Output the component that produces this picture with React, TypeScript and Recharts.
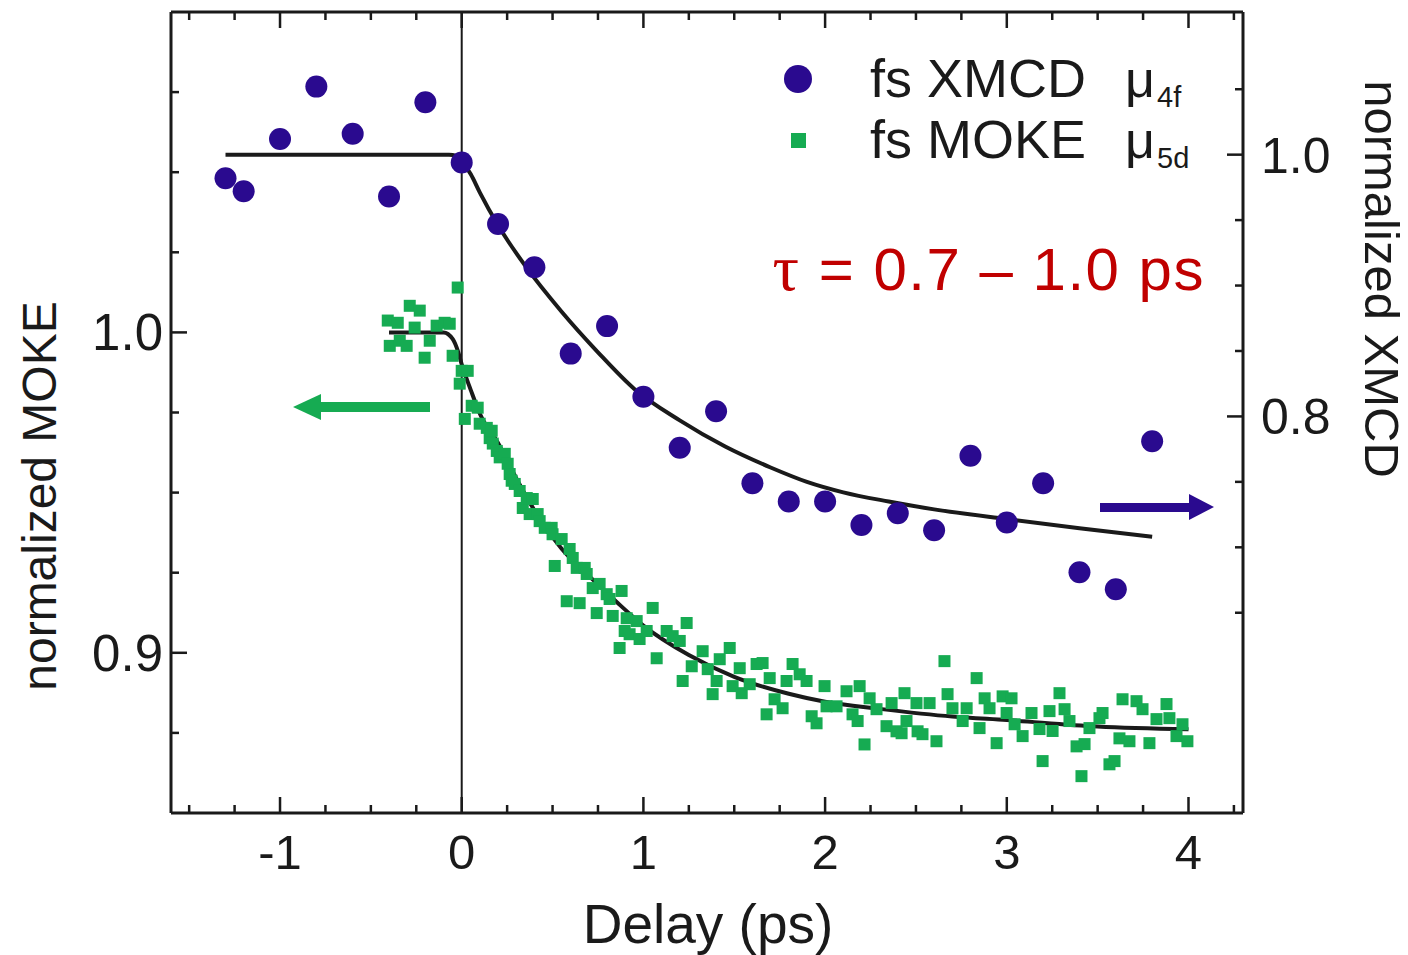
import {
  ComposedChart,
  Customized,
  Line,
  ReferenceLine,
  Scatter,
  XAxis,
  YAxis,
} from "recharts";

const BLUE = "#2a0a8f";
const GREEN = "#16ab52";
const INK = "#1a1a1a";
const RED = "#c00000";
const FONT = "'Liberation Sans', Arial, sans-serif";

// fs XMCD (right axis)
const xmcdDelay = [
  -1.3, -1.2, -1.0, -0.8, -0.6, -0.4, -0.2, 0.0, 0.2, 0.4, 0.6, 0.8, 1.0, 1.2,
  1.4, 1.6, 1.8, 2.0, 2.2, 2.4, 2.6, 2.8, 3.0, 3.2, 3.4, 3.6, 3.8,
];
const xmcdValue = [
  0.982, 0.972, 1.012, 1.052, 1.016, 0.968, 1.04, 0.994, 0.947, 0.914, 0.848,
  0.869, 0.815, 0.776, 0.804, 0.749, 0.735, 0.735, 0.717, 0.726, 0.713, 0.77,
  0.719, 0.749, 0.681, 0.668, 0.781,
];

// XMCD fit curve
const xmcdFitDelay = [
  -1.3, -0.07, -0.03, 0.0, 0.05, 0.1, 0.2, 0.35, 0.55, 0.75, 0.95, 1.2, 1.45,
  1.7, 1.9, 2.1, 2.35, 2.6, 3.0, 3.4, 3.8,
];
const xmcdFitValue = [
  1.0, 1.0, 0.999, 0.995, 0.985, 0.971, 0.946, 0.915, 0.88, 0.849, 0.821, 0.797,
  0.777, 0.761, 0.75, 0.742, 0.735, 0.729, 0.7215, 0.7145, 0.708,
];

// fs MOKE (left axis)
const mokeDelay = [
  -0.407, -0.396, -0.352, -0.341, -0.303, -0.286, -0.259, -0.231, -0.204,
  -0.176, -0.138, -0.094, -0.066, -0.05, -0.022, -0.011, 0.0, 0.017, 0.033,
  0.055, 0.088, 0.099, 0.138, 0.154, 0.165, 0.171, 0.193, 0.209, 0.237, 0.253,
  0.264, 0.275, 0.292, 0.319, 0.336, 0.358, 0.374, 0.391, 0.418, 0.429, 0.457,
  0.495, 0.5, 0.512, 0.55, 0.578, 0.594, 0.611, 0.633, 0.649, 0.677, 0.688,
  0.721, 0.743, 0.759, 0.798, 0.814, 0.831, 0.869, 0.88, 0.897, 0.908,
  0.924, 0.963, 0.979, 1.018, 1.051, 1.073, 1.128, 1.161, 1.2, 1.216, 1.238,
  1.266, 1.326, 1.354, 1.381, 1.403, 1.42, 1.475, 1.491, 1.53, 1.541, 1.585,
  1.623, 1.656, 1.678, 1.695, 1.722, 1.766, 1.788, 1.821, 1.86, 1.898, 1.926,
  1.953, 1.997, 2.008, 2.063, 2.118, 2.151, 2.179, 2.19, 2.217, 2.245, 2.283,
  2.338, 2.366, 2.393, 2.421, 2.437, 2.448, 2.503, 2.509, 2.536, 2.575, 2.613,
  2.657, 2.674, 2.701, 2.757, 2.779, 2.834, 2.85, 2.878, 2.905, 2.944, 2.977,
  2.999, 3.026, 3.043, 3.087, 3.136, 3.18, 3.197, 3.235, 3.252, 3.29, 3.318,
  3.345, 3.384, 3.411, 3.428, 3.455, 3.51, 3.527, 3.565, 3.593, 3.62, 3.637,
  3.675, 3.714, 3.747, 3.785, 3.824, 3.879, 3.895, 3.934, 3.967, 3.994,
];
const mokeValue = [
  1.0037, 0.9958, 1.003, 0.9974, 0.9958, 1.0083, 1.0015, 1.0068, 0.9921,
  0.9974, 1.0021, 1.003, 1.0027, 0.9927, 1.014, 0.984, 0.988, 0.973, 0.988,
  0.9771, 0.9765, 0.9715, 0.9702, 0.967, 0.9693, 0.9653, 0.963, 0.961, 0.9621,
  0.959, 0.9558, 0.9537, 0.9527, 0.9505, 0.9452, 0.9483, 0.9433, 0.948, 0.9433,
  0.9411, 0.939, 0.939, 0.937, 0.9271, 0.9355, 0.9161, 0.9324, 0.9296, 0.9265,
  0.9155, 0.9265, 0.9246, 0.9202, 0.9124, 0.9215, 0.9183, 0.9168, 0.9115,
  0.9015, 0.9193, 0.9068, 0.9108, 0.9058, 0.9099, 0.9043, 0.9068, 0.914,
  0.8983, 0.9068, 0.9052, 0.9037, 0.8912, 0.9093, 0.8958, 0.9005, 0.8949,
  0.8871, 0.8912, 0.898, 0.9015, 0.8896, 0.8952, 0.8874, 0.8902, 0.8965,
  0.8968, 0.8808, 0.8921, 0.8855, 0.8827, 0.8912, 0.8965, 0.8933, 0.8912,
  0.8802, 0.878, 0.8896, 0.8833, 0.8833, 0.888, 0.8808, 0.8787, 0.8896, 0.8714,
  0.8858, 0.8824, 0.8771, 0.8843, 0.8755, 0.8749, 0.8874, 0.8787, 0.8843,
  0.8755, 0.8746, 0.8843, 0.8724, 0.8974, 0.8871, 0.8827, 0.8787, 0.8827,
  0.8921, 0.8765, 0.8858, 0.8827, 0.8718, 0.8864, 0.8812, 0.8858, 0.8777,
  0.874, 0.8812, 0.8762, 0.8662, 0.8818, 0.8756, 0.8874, 0.8824, 0.8787,
  0.8708, 0.8615, 0.8715, 0.8765, 0.8796, 0.8812, 0.8652, 0.8662, 0.8733,
  0.8855, 0.8724, 0.8849, 0.8824, 0.8718, 0.8793, 0.884, 0.8796, 0.874, 0.8777,
  0.8724,
];

// MOKE fit curve
const mokeFitDelay = [
  -0.4, -0.1, -0.05, -0.02, 0.0, 0.05, 0.1, 0.2, 0.3, 0.4, 0.55, 0.7, 0.85, 1.0,
  1.25, 1.5, 1.8, 2.0, 2.3, 2.7, 3.0, 3.5, 4.0,
];
const mokeFitValue = [
  1.0, 1.0, 0.998, 0.994, 0.99, 0.982, 0.9746, 0.9655, 0.9545, 0.9445, 0.9325,
  0.924, 0.916, 0.9085, 0.8993, 0.8925, 0.8872, 0.8847, 0.8825, 0.8801, 0.879,
  0.877, 0.8761,
];

const xTicks = [
  -1.5, -1.25, -1, -0.75, -0.5, -0.25, 0, 0.25, 0.5, 0.75, 1, 1.25, 1.5, 1.75,
  2, 2.25, 2.5, 2.75, 3, 3.25, 3.5, 3.75, 4, 4.25,
];
const leftTicks = [0.875, 0.9, 0.925, 0.95, 0.975, 1.0, 1.025, 1.05, 1.075];
const rightTicks = [0.65, 0.7, 0.75, 0.8, 0.85, 0.9, 0.95, 1.0, 1.05];

const toPoints = (xs: number[], ys: number[]) =>
  xs.map((x, i) => ({ x, y: ys[i] }));

const xmcdPoints = toPoints(xmcdDelay, xmcdValue);
const xmcdFit = toPoints(xmcdFitDelay, xmcdFitValue);
const mokePoints = toPoints(mokeDelay, mokeValue);
const mokeFit = toPoints(mokeFitDelay, mokeFitValue);

const isNear = (v: number, step: number) =>
  Math.abs(v / step - Math.round(v / step)) < 1e-6;

const BottomTick = ({ x, y, payload }: any) => {
  const major = isNear(payload.value, 1);
  return (
    <g>
      <line x1={x} x2={x} y1={y} y2={y - (major ? 16 : 8)} stroke={INK} strokeWidth={2.5} />
      {major && (
        <text x={x} y={y + 56} textAnchor="middle" fontSize={49} fontFamily={FONT} fill={INK}>
          {payload.value}
        </text>
      )}
    </g>
  );
};

const TopTick = ({ x, y, payload }: any) => {
  const major = isNear(payload.value, 1);
  return (
    <line x1={x} x2={x} y1={y} y2={y + (major ? 16 : 8)} stroke={INK} strokeWidth={2.5} />
  );
};

const LeftTick = ({ x, y, payload }: any) => {
  const major = isNear(payload.value, 0.1);
  return (
    <g>
      <line x1={x} x2={x + (major ? 16 : 8)} y1={y} y2={y} stroke={INK} strokeWidth={2.5} />
      {major && (
        <text x={x - 8} y={y + 18} textAnchor="end" fontSize={51} fontFamily={FONT} fill={INK}>
          {payload.value.toFixed(1)}
        </text>
      )}
    </g>
  );
};

const RightTick = ({ x, y, payload }: any) => {
  const major = isNear(payload.value, 0.2);
  return (
    <g>
      <line x1={x} x2={x - (major ? 16 : 8)} y1={y} y2={y} stroke={INK} strokeWidth={2.5} />
      {major && (
        <text x={x + 18} y={y + 18} textAnchor="start" fontSize={50} fontFamily={FONT} fill={INK}>
          {payload.value.toFixed(1)}
        </text>
      )}
    </g>
  );
};

const Circle = ({ cx, cy }: any) => <circle cx={cx} cy={cy} r={11} fill={BLUE} />;
const Square = ({ cx, cy }: any) => (
  <rect x={cx - 6} y={cy - 6} width={12} height={12} fill={GREEN} />
);

const Annotations = () => (
  <g fontFamily={FONT}>
    {/* legend */}
    <circle cx={798} cy={79} r={14} fill={BLUE} />
    <text x={870} y={97} fontSize={54} fill={INK}>fs XMCD</text>
    <text x={1125} y={97} fontSize={52} fill={INK}>μ</text>
    <text x={1157} y={107} fontSize={29} fill={INK}>4f</text>
    <rect x={791} y={133} width={15} height={15} fill={GREEN} />
    <text x={870} y={158} fontSize={54} fill={INK}>fs MOKE</text>
    <text x={1125} y={158} fontSize={52} fill={INK}>μ</text>
    <text x={1157} y={168} fontSize={29} fill={INK}>5d</text>

    <text x={1205} y={290} textAnchor="end" fontSize={60} letterSpacing={1.5} fill={RED}>
      <tspan fontFamily="'Liberation Serif', 'Times New Roman', serif" fontSize={66}>τ</tspan>
      {" = 0.7 – 1.0 ps"}
    </text>

    {/* axis direction arrows */}
    <rect x={318} y={402} width={112} height={10} fill={GREEN} />
    <polygon points="293,407 321,394 321,420" fill={GREEN} />
    <rect x={1100} y={503} width={92} height={9} fill={BLUE} />
    <polygon points="1214,507 1189,494 1189,520" fill={BLUE} />

    {/* axis titles */}
    <text transform="translate(56,496) rotate(-90)" textAnchor="middle" fontSize={48} fill={INK}>
      normalized MOKE
    </text>
    <text transform="translate(1365,279) rotate(90)" textAnchor="middle" fontSize={49} fill={INK}>
      normalized XMCD
    </text>
    <text x={708} y={943} textAnchor="middle" fontSize={55} fill={INK}>
      Delay (ps)
    </text>
  </g>
);

export default function App() {
  return (
    <div style={{ position: "absolute", left: 0, top: 0, background: "#fff" }}>
      <ComposedChart
        width={1408}
        height={955}
        margin={{ top: 11, right: 0, bottom: 0, left: 0 }}
      >
        <XAxis
          dataKey="x"
          type="number"
          domain={[-1.6, 4.3]}
          allowDataOverflow
          ticks={xTicks}
          interval={0}
          height={142}
          tickSize={0}
          tickMargin={0}
          tickLine={false}
          tick={BottomTick}
          axisLine={{ stroke: INK, strokeWidth: 3 }}
        />
        <XAxis
          xAxisId="top"
          orientation="top"
          dataKey="x"
          type="number"
          domain={[-1.6, 4.3]}
          allowDataOverflow
          ticks={xTicks}
          interval={0}
          height={1}
          tickSize={0}
          tickMargin={0}
          tickLine={false}
          tick={TopTick}
          axisLine={{ stroke: INK, strokeWidth: 3 }}
        />
        <YAxis
          yAxisId="left"
          dataKey="y"
          type="number"
          domain={[0.85, 1.1]}
          allowDataOverflow
          ticks={leftTicks}
          interval={0}
          width={171}
          tickSize={0}
          tickMargin={0}
          tickLine={false}
          tick={LeftTick}
          axisLine={{ stroke: INK, strokeWidth: 3 }}
        />
        <YAxis
          yAxisId="right"
          orientation="right"
          dataKey="y"
          type="number"
          domain={[0.497, 1.109]}
          allowDataOverflow
          ticks={rightTicks}
          interval={0}
          width={165}
          tickSize={0}
          tickMargin={0}
          tickLine={false}
          tick={RightTick}
          axisLine={{ stroke: INK, strokeWidth: 3 }}
        />
        <Scatter
          name="fs MOKE"
          yAxisId="left"
          data={mokePoints}
          dataKey="y"
          shape={Square}
          isAnimationActive={false}
        />
        <Scatter
          name="fs XMCD"
          yAxisId="right"
          data={xmcdPoints}
          dataKey="y"
          shape={Circle}
          isAnimationActive={false}
        />
        <ReferenceLine yAxisId="left" x={0} stroke={INK} strokeWidth={2} />
        <Line
          yAxisId="left"
          data={mokeFit}
          dataKey="y"
          type="monotone"
          dot={false}
          stroke={INK}
          strokeWidth={4}
          isAnimationActive={false}
        />
        <Line
          yAxisId="right"
          data={xmcdFit}
          dataKey="y"
          type="monotone"
          dot={false}
          stroke={INK}
          strokeWidth={4}
          isAnimationActive={false}
        />
        <Customized component={Annotations} />
      </ComposedChart>
    </div>
  );
}
